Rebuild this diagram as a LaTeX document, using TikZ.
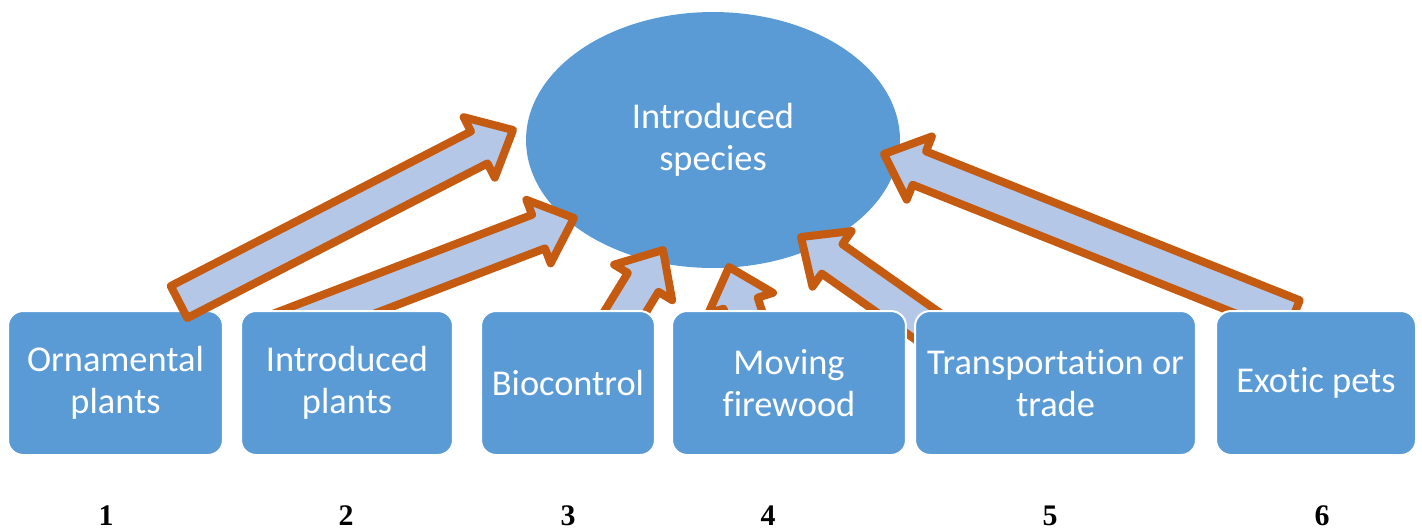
\documentclass[tikz,border=0pt]{standalone}
\usepackage{fontspec}
\setmainfont{Liberation Serif}
\newfontfamily\calibri[Ligatures={NoCommon,NoContextual,NoRare}]{Carlito}
\usetikzlibrary{calc,shapes.geometric}
\definecolor{boxblue}{HTML}{5B9BD5}
\definecolor{arrfill}{HTML}{B4C7E7}
\definecolor{arrline}{HTML}{C55A11}
\newcommand\blockarrow[2]{%
 \path ($(#2)!0.76cm!(#1)$) coordinate (ab);
 \draw[barrow] ($(#1)!0.36cm!90:(#2)$) -- ($(ab)!0.36cm!90:(#2)$) -- ($(ab)!0.68cm!90:(#2)$) -- (#2) -- ($(ab)!0.68cm!-90:(#2)$) -- ($(ab)!0.36cm!-90:(#2)$) -- ($(#1)!0.36cm!-90:(#2)$) -- cycle;}
\begin{document}
\begin{tikzpicture}[x=0.02cm,y=-0.02cm,
  barrow/.style={fill=arrfill,draw=arrline,line width=0.16cm,line join=round},
  srcbox/.style={rectangle,rounded corners=0.3cm,fill=boxblue,draw=white,line width=0.04cm,
    minimum height=2.88cm,inner sep=0pt,text=white,align=center,
    font=\calibri\fontsize{20.7}{23.8}\selectfont},
  num/.style={anchor=base,font=\bfseries\fontsize{17}{20}\selectfont}]
\useasboundingbox (0,0) rectangle (1422,529);
\node[ellipse,fill=boxblue,minimum width=7.48cm,minimum height=5.12cm,inner sep=0pt,
  text=white,align=center,font=\calibri\fontsize{20.7}{23.8}\selectfont] (sp) at (713,140) {Introduced\\species};
% arrow tails and tips
\coordinate (t1) at (179,302); \coordinate (p1) at (513,130);
\coordinate (t2) at (268,335); \coordinate (p2) at (574,218);
\coordinate (t3) at (606,343); \coordinate (p3) at (663,250);
\coordinate (t4) at (755,348); \coordinate (p4) at (729,267);
\coordinate (t5) at (953,344); \coordinate (p5) at (801,237);
\coordinate (t6) at (1293,317); \coordinate (p6) at (884,154);
\blockarrow{t2}{p2}
\blockarrow{t3}{p3}
\blockarrow{t4}{p4}
\blockarrow{t5}{p5}
\blockarrow{t6}{p6}
% boxes
\node[srcbox,minimum width=4.3cm] (b1) at (115.5,383) {Ornamental\\plants};
\node[srcbox,minimum width=4.24cm] (b2) at (347,383) {Introduced\\plants};
\node[srcbox,minimum width=3.48cm] (b3) at (568,383) {Biocontrol};
\node[srcbox,minimum width=4.68cm] (b4) at (789,383) {Moving\\firewood};
\node[srcbox,minimum width=5.62cm] (b5) at (1055.5,383) {Transportation or\\trade};
\node[srcbox,minimum width=4.0cm] (b6) at (1316,383) {Exotic pets};
\blockarrow{t1}{p1}
% numbers
\node[num] (n1) at (106,525) {1};
\node[num] (n2) at (346,525) {2};
\node[num] (n3) at (568,525) {3};
\node[num] (n4) at (768,525) {4};
\node[num] (n5) at (1050,525) {5};
\node[num] (n6) at (1322,525) {6};
\end{tikzpicture}
\end{document}
